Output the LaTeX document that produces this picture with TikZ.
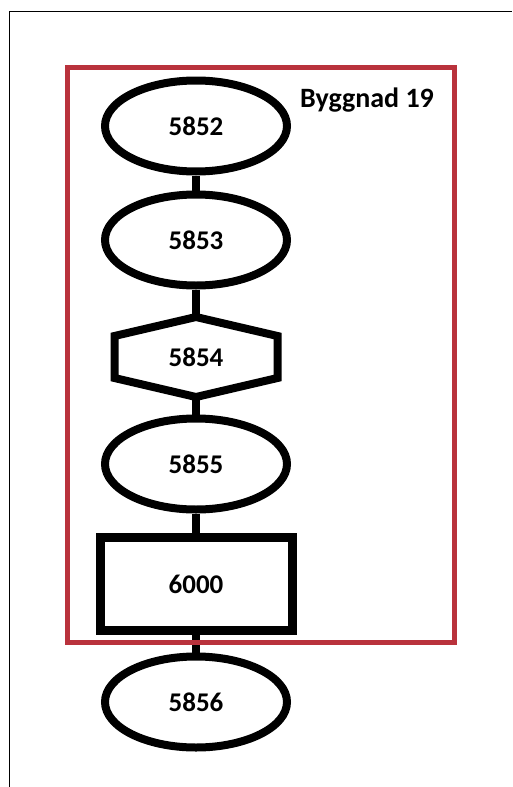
\documentclass[tikz,border=0pt]{standalone}
\usepackage{fontspec}
\setmainfont{Carlito}
\usetikzlibrary{shapes.geometric}
\definecolor{boxred}{RGB}{185,50,60}

\begin{document}
\begin{tikzpicture}[x=1pt,y=-1pt,
        room/.style={ellipse,draw,line width=8pt,minimum width=182pt,minimum height=91pt},
        link/.style={line width=8pt},
        every node/.style={font=\bfseries\fontsize{27}{30}\selectfont}]
        % Page size
        \useasboundingbox (0,0) rectangle (512,787);

        % Thin frame at left and top
        \draw[line width=1pt] (9,787) -- (9,11) -- (512,11);

        % Rooms
        \node[room] (r5852) at (196,126) {5852};
        \node[room] (r5853) at (196,240) {5853};
        \node[inner sep=0pt,outer sep=0pt,minimum width=163pt,minimum height=80pt] (r5854) at (196,357) {5854};
        \node[room] (r5855) at (196,464) {5855};
        \node[draw,line width=9pt,minimum width=192pt,minimum height=93pt] (r6000) at (196,584) {6000};
        \node[room] (r5856) at (196,702) {5856};

        % Hexagon round 5854
        \draw[line width=8pt] (r5854.north) -- ([yshift=-19pt]r5854.north east) -- ([yshift=19pt]r5854.south east)
            -- (r5854.south) -- ([yshift=19pt]r5854.south west) -- ([yshift=-19pt]r5854.north west) -- cycle;

        % Lines between rooms
        \draw[link] (r5852) -- (r5853);
        \draw[link] (r5853) -- (r5854);
        \draw[link] (r5854) -- (r5855);
        \draw[link] (r5855) -- (r6000);
        \draw[link] (r6000) -- (r5856);

        % Building
        \draw[boxred,line width=5pt] (67.5,67.5) rectangle (454.5,642.5);
        \node[font=\bfseries\fontsize{28}{32}\selectfont] (bldg) at (367,100) {Byggnad 19};
    \end{tikzpicture}
\end{document}
